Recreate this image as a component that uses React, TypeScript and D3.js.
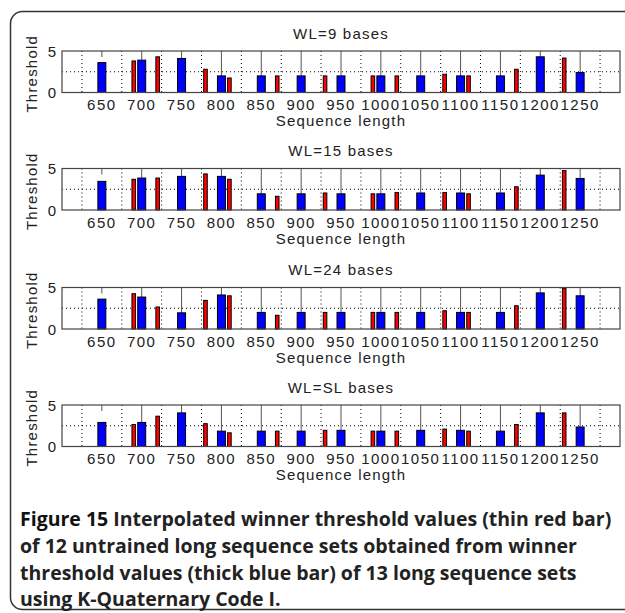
import React from "react";
import * as d3 from "d3";

// ---------- data ----------
const blueLengths = [650, 700, 750, 800, 850, 900, 950, 1000, 1050, 1100, 1150, 1200, 1250];
const redLengths = [690, 720, 780, 810, 870, 930, 990, 1020, 1080, 1110, 1170, 1230];

const panelTitles = ["WL=9 bases", "WL=15 bases", "WL=24 bases", "WL=SL bases"];

const blueWL9 = [3.6, 3.9, 4.1, 2.0, 2.0, 2.0, 2.0, 2.0, 2.0, 2.0, 2.0, 4.3, 2.4];
const redWL9 = [3.8, 4.3, 2.8, 1.75, 2.0, 2.0, 2.0, 2.0, 2.2, 2.0, 2.8, 4.15];

const blueWL15 = [3.45, 3.85, 4.05, 4.05, 1.95, 1.95, 1.95, 1.95, 2.05, 2.05, 2.05, 4.2, 3.8];
const redWL15 = [3.7, 3.85, 4.35, 3.7, 1.65, 2.05, 1.95, 2.1, 2.1, 1.95, 2.8, 4.75];

const blueWL24 = [3.6, 3.85, 1.95, 4.1, 2.0, 2.0, 2.0, 2.0, 2.0, 2.0, 2.0, 4.35, 4.0];
const redWL24 = [4.25, 2.65, 3.45, 4.0, 1.65, 2.0, 2.0, 2.0, 2.2, 2.0, 2.8, 4.9];

const blueWLSL = [2.9, 2.9, 4.05, 1.85, 1.85, 1.85, 1.95, 1.85, 1.95, 1.95, 1.85, 4.05, 2.35];
const redWLSL = [2.65, 3.65, 2.75, 1.65, 1.85, 1.95, 1.85, 1.85, 2.1, 1.85, 2.65, 4.05];

const blueSeries = [blueWL9, blueWL15, blueWL24, blueWLSL];
const redSeries = [redWL9, redWL15, redWL24, redWLSL];

const xTicks = [650, 700, 750, 800, 850, 900, 950, 1000, 1050, 1100, 1150, 1200, 1250];
const xDotGrid = [625, 675, 725, 775, 825, 875, 925, 975, 1025, 1075, 1125, 1175, 1225, 1275];
const yTicks = [0, 5];
const yDotGrid = [2.5];

const xLabel = "Sequence length";
const yLabel = "Threshold";
const captionLines = [
  ["Figure 15", " Interpolated winner threshold values (thin red bar)"],
  ["", "of 12 untrained long sequence sets obtained from winner"],
  ["", "threshold values (thick blue bar) of 13 long sequence sets"],
  ["", "using K-Quaternary Code I."],
];

// ---------- layout ----------
const W = 625;
const H = 613;
const plotLeft = 62;
const plotRight = 620;
const panelTops = [51, 168.5, 287.5, 405];
const panelH = 41.5;
const blueW = 10; // data units
const redW = 4.5;

const axisFont = "'Liberation Sans', Arial, sans-serif";
const axisSize = 15;
const axisSpacing = 1.5;
const axisColor = "#222";

function Panel({ idx }: { idx: number }) {
  const top = panelTops[idx];
  const x = d3.scaleLinear().domain([600, 1300]).range([plotLeft, plotRight]);
  const y = d3.scaleLinear().domain([0, 5]).range([top + panelH, top]);
  const blue = blueSeries[idx];
  const red = redSeries[idx];
  const bottom = top + panelH;
  const cx = (plotLeft + plotRight) / 2;
  return (
    <g>
      <rect x={plotLeft} y={top} width={plotRight - plotLeft} height={panelH} fill="#fff" />
      {xDotGrid.map((v) => (
        <line key={"dg" + v} x1={x(v)} x2={x(v)} y1={top} y2={bottom} stroke="#000" strokeWidth={1} strokeDasharray="1,3" />
      ))}
      {yDotGrid.map((v) => (
        <line key={"hg" + v} x1={plotLeft} x2={plotRight} y1={y(v)} y2={y(v)} stroke="#000" strokeWidth={1} strokeDasharray="1,3" />
      ))}
      {xTicks.map((v) => (
        <line key={"tk" + v} x1={x(v)} x2={x(v)} y1={top} y2={v >= 700 ? bottom : top + 6} stroke="#555" strokeWidth={1} />
      ))}
      {blue.map((v, i) => (
        <rect key={"b" + i} x={x(blueLengths[i] - blueW / 2)} y={y(v)} width={x(blueLengths[i] + blueW / 2) - x(blueLengths[i] - blueW / 2)} height={y(0) - y(v)} fill="#0000ff" stroke="#000" strokeWidth={1} />
      ))}
      {red.map((v, i) => (
        <rect key={"r" + i} x={x(redLengths[i] - redW / 2)} y={y(v)} width={x(redLengths[i] + redW / 2) - x(redLengths[i] - redW / 2)} height={y(0) - y(v)} fill="#ff0000" stroke="#000" strokeWidth={1} />
      ))}
      <rect x={plotLeft} y={top} width={plotRight - plotLeft} height={panelH} fill="none" stroke="#444" strokeWidth={1.2} />
      {xTicks.map((v) => (
        <text key={"tl" + v} x={x(v)} y={bottom + 12} textAnchor="middle" dominantBaseline="central" fontFamily={axisFont} fontSize={axisSize} letterSpacing={axisSpacing} fill={axisColor}>
          {v}
        </text>
      ))}
      {yTicks.map((v) => (
        <text key={"yl" + v} x={plotLeft - 10} y={y(v)} textAnchor="middle" dominantBaseline="central" fontFamily={axisFont} fontSize={axisSize} fill={axisColor}>
          {v}
        </text>
      ))}
      <text x={cx} y={bottom + 28} textAnchor="middle" dominantBaseline="central" fontFamily={axisFont} fontSize={axisSize} letterSpacing={1.2} fill={axisColor}>
        {xLabel}
      </text>
      <text x={cx} y={top - 18} textAnchor="middle" dominantBaseline="central" fontFamily={axisFont} fontSize={axisSize} letterSpacing={1.2} fill={axisColor}>
        {panelTitles[idx]}
      </text>
      <text transform={`translate(31,${top + panelH / 2 + 2}) rotate(-90)`} textAnchor="middle" dominantBaseline="central" fontFamily={axisFont} fontSize={axisSize} letterSpacing={1.2} fill={axisColor}>
        {yLabel}
      </text>
    </g>
  );
}

export default function App() {
  const captionBase = 526;
  const lineStep = 26.8;
  return (
    <svg width={W} height={H} style={{ position: "absolute", left: 0, top: 0, background: "#fff" }}>
      <rect x={0} y={0} width={W} height={H} fill="#fff" />
      <rect x={10.5} y={11.5} width={660} height={598} rx={12} ry={12} fill="none" stroke="#333" strokeWidth={1.5} />
      {panelTitles.map((_, i) => (
        <Panel key={i} idx={i} />
      ))}
      {captionLines.map((ln, i) => (
        <text key={"c" + i} x={20} y={captionBase + i * lineStep} fontFamily="'Open Sans', 'Noto Sans', sans-serif" fontSize={19.5} fontWeight={700} fill="#222">
          {ln[0] ? <tspan fill="#111">{ln[0]}</tspan> : null}
          <tspan>{ln[1]}</tspan>
        </text>
      ))}
    </svg>
  );
}
